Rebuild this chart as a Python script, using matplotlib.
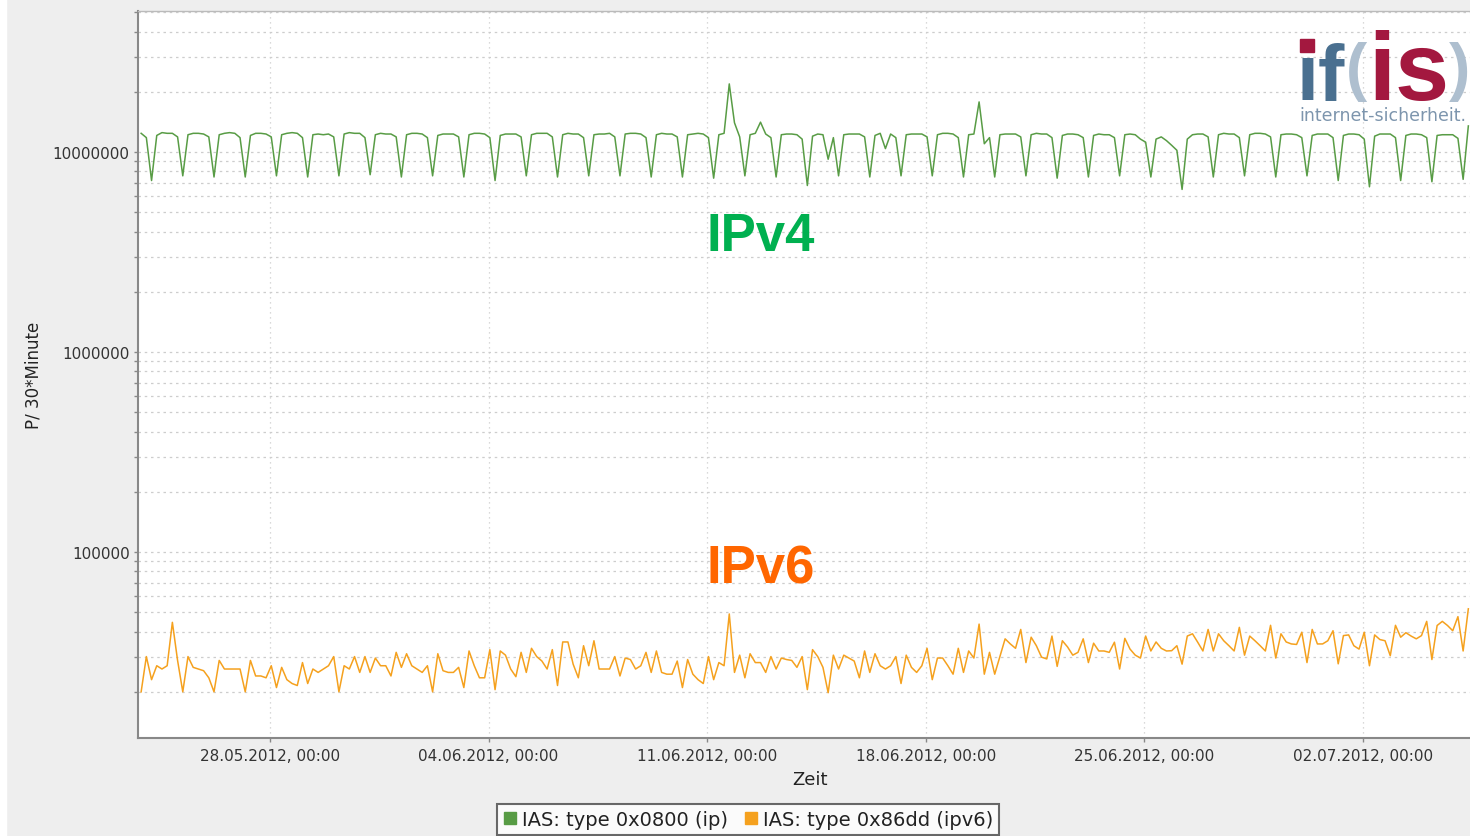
from datetime import datetime, timedelta
import numpy as np
import matplotlib
matplotlib.use('Agg')
import matplotlib.pyplot as plt
import matplotlib.dates as mdates
import matplotlib.ticker as ticker
from matplotlib.lines import Line2D
from matplotlib.patches import Rectangle

W, H = 1470, 837

# samples every 4 hours, first one 23.05.2012 21:00
start = datetime(2012, 5, 23, 21, 0)
step_hours = 4

# IPv4 packets per 30 min, in millions (rows = one day: 01, 05, 09, 13, 17, 21 h)
ipv4_mio = [
    12.4,
    11.8, 7.2, 12.1, 12.5, 12.4, 12.4,
    11.9, 7.6, 12.2, 12.4, 12.4, 12.3,
    11.9, 7.5, 12.2, 12.4, 12.5, 12.4,
    11.8, 7.5, 12.1, 12.4, 12.4, 12.3,
    11.9, 7.6, 12.2, 12.4, 12.5, 12.4,
    11.8, 7.5, 12.2, 12.3, 12.2, 12.3,
    11.9, 7.6, 12.3, 12.5, 12.4, 12.4,
    11.8, 7.7, 12.2, 12.4, 12.3, 12.3,
    11.9, 7.5, 12.2, 12.4, 12.4, 12.3,
    11.8, 7.6, 12.1, 12.3, 12.3, 12.3,
    11.9, 7.5, 12.2, 12.4, 12.4, 12.3,
    11.8, 7.2, 12.1, 12.3, 12.3, 12.3,
    11.9, 7.6, 12.2, 12.4, 12.4, 12.4,
    11.9, 7.5, 12.2, 12.4, 12.3, 12.3,
    11.8, 7.6, 12.2, 12.3, 12.3, 12.4,
    11.9, 7.6, 12.3, 12.4, 12.4, 12.3,
    11.8, 7.5, 12.2, 12.4, 12.3, 12.3,
    11.9, 7.5, 12.2, 12.3, 12.4, 12.3,
    11.8, 7.4, 12.2, 12.4, 21.9, 14.0,
    11.9, 7.6, 12.2, 12.4, 14.1, 12.3,
    11.8, 7.5, 12.2, 12.3, 12.3, 12.2,
    11.6, 6.8, 12.0, 12.3, 12.2, 9.2,
    11.8, 7.6, 12.2, 12.3, 12.3, 12.3,
    11.9, 7.5, 12.1, 12.4, 10.4, 12.3,
    11.8, 7.6, 12.2, 12.3, 12.3, 12.3,
    11.9, 7.6, 12.2, 12.4, 12.4, 12.3,
    11.8, 7.5, 12.2, 12.3, 17.8, 11.0,
    11.8, 7.5, 12.2, 12.3, 12.3, 12.3,
    11.9, 7.6, 12.2, 12.4, 12.3, 12.3,
    11.8, 7.4, 12.1, 12.3, 12.3, 12.2,
    11.8, 7.5, 12.1, 12.3, 12.2, 12.2,
    11.8, 7.6, 12.2, 12.3, 12.2, 11.6,
    11.2, 7.5, 11.6, 11.9, 11.4, 10.8,
    10.2, 6.5, 11.6, 12.2, 12.3, 12.3,
    11.9, 7.5, 12.2, 12.4, 12.3, 12.3,
    11.8, 7.6, 12.2, 12.4, 12.4, 12.3,
    11.9, 7.5, 12.2, 12.3, 12.3, 12.2,
    11.8, 7.6, 12.1, 12.3, 12.3, 12.3,
    11.8, 7.2, 12.1, 12.3, 12.3, 12.2,
    11.6, 6.7, 12.0, 12.3, 12.3, 12.3,
    11.8, 7.2, 12.1, 12.3, 12.3, 12.2,
    11.8, 7.1, 12.1, 12.2, 12.2, 12.2,
    11.7, 7.3, 13.5,
]

# IPv6 packets per 30 min, in thousands (same time grid)
ipv6_tsd = [
    20, 30, 23, 27, 26, 27, 44.5, 28.7, 20, 30,
    26.5, 26, 25.5, 23.5, 20, 28.7, 26, 26, 26, 26,
    20, 28.7, 24, 24, 23.5, 27, 21, 26.5, 23, 22,
    21.5, 28, 22, 26, 25, 26, 27, 30, 20, 27,
    26, 30, 25, 30, 25, 29.5, 27, 27, 24, 31.5,
    26.5, 31, 27, 26, 25, 27,
    20, 31, 25.5, 25, 25, 26.5, 21, 32, 27, 23.5,
    23.5, 32.5, 20.5, 32, 30.5, 26, 23.8, 31.5, 25, 33,
    30, 28.5, 26, 32.5, 21.5, 35.5, 35.5, 27.5, 23.5, 34,
    27, 36, 26, 26, 26, 30, 24, 29.5, 29, 26,
    27, 31.5, 25, 32, 25, 24.5, 24.5, 28.5, 21, 29,
    24.5, 23, 22, 30,
    23, 28, 27, 49, 25, 30.5, 23.5, 31, 28, 28,
    25, 30, 26, 29.5, 29, 28.7, 26.5, 30, 20.5, 32.5,
    30, 26.5, 19.8, 30.5, 26, 30.5, 29.5, 28.5, 23.5, 32,
    25, 31, 27, 26, 27, 30, 22, 30.5, 26.5, 25,
    27, 33, 23, 29.5, 29.5, 27, 24.5, 33, 25, 32,
    29.5, 43.6, 24.5, 31.5,
    24.5, 30, 36.8, 34.7, 33, 41, 28, 37.5, 34, 29.8,
    29.2, 38, 26.8, 36, 33.5, 30.5, 31.5, 36.8, 28, 35,
    32, 32, 31.5, 35.4, 26, 37, 32.7, 30.5, 29.5, 38,
    32, 35.5, 33, 32, 32.1, 34, 27.5, 38, 39, 35.4,
    32, 41, 32, 39, 36, 34, 32, 42, 30.5, 38,
    36, 34, 32,
    43, 29.5, 39, 35.5, 34.7, 34.5, 39.7, 28, 41, 34.7,
    34.7, 36, 40.4, 27.6, 38.2, 38.5, 34, 32.7, 39.7, 27,
    38.5, 36.5, 36, 30.3, 43, 37.5, 39.5, 38, 36.8, 38.2,
    45, 29, 42.9, 45, 42.9, 40.4, 47.5, 32, 52,
]

x_ticks = [datetime(2012, 5, 28), datetime(2012, 6, 4), datetime(2012, 6, 11),
           datetime(2012, 6, 18), datetime(2012, 6, 25), datetime(2012, 7, 2)]
labels = ['IAS: type 0x0800 (ip)', 'IAS: type 0x86dd (ipv6)']
green = '#589c45'
orange = '#f5a11e'

t = [start + timedelta(hours=step_hours * i) for i in range(len(ipv4_mio))]

def fx(x):
    return x / W

def fy(y):
    return 1 - y / H

fig = plt.figure(figsize=(W / 100, H / 100), dpi=100, facecolor='#eeeeee')
fig.patches.append(Rectangle((0, 0), 6 / W, 1, transform=fig.transFigure,
                             color='white', zorder=-5))

ax = fig.add_axes([fx(138), fy(739), 1344 / W, 727 / H])
ax.set_yscale('log')
ax.plot(t, np.array(ipv4_mio) * 1e6, color=green, lw=1.1, zorder=3)
ax.plot(t, np.array(ipv6_tsd) * 1e3, color=orange, lw=1.1, zorder=3)

ax.set_xlim(datetime(2012, 5, 23, 18, 35), datetime(2012, 7, 5, 19, 30))
ax.set_ylim(11750, 5.07e7)

ax.set_xticks(x_ticks)
ax.xaxis.set_major_formatter(mdates.DateFormatter('%d.%m.%Y, %H:%M'))
ax.yaxis.set_major_locator(ticker.LogLocator(base=10))
ax.yaxis.set_minor_locator(ticker.LogLocator(base=10, subs=np.arange(2, 10)))
ax.yaxis.set_major_formatter(ticker.FuncFormatter(lambda v, p: f'{int(round(v))}'))
ax.yaxis.set_minor_formatter(ticker.NullFormatter())

ax.grid(True, which='both', axis='y', color='#cdcdcd', ls=(0, (2, 3)), lw=0.9)
ax.grid(True, which='major', axis='x', color='#cdcdcd', ls=(0, (1, 3)), lw=0.9)
ax.set_axisbelow(True)

ax.tick_params(axis='both', which='both', direction='out', length=3, width=1,
               color='#888888', labelcolor='#333333', labelsize=11)
ax.tick_params(axis='y', pad=3)
ax.tick_params(axis='x', pad=4)

for s in ['left', 'bottom']:
    ax.spines[s].set_color('#888888')
    ax.spines[s].set_linewidth(1.5)
ax.spines['top'].set_color('#bbbbbb')
ax.spines['top'].set_linewidth(1)
ax.spines['right'].set_visible(False)

ax.set_xlabel('Zeit', fontsize=13, color='#222222', labelpad=5)
fig.text(fx(33), fy(375), 'P/ 30*Minute', rotation=90, fontsize=12,
         ha='center', va='center', color='#222222')

# series labels
fig.text(fx(761), fy(251), 'IPv4', fontsize=38, fontweight='bold',
         family='Liberation Sans', color='#00b050', ha='center', va='baseline')
fig.text(fx(761), fy(584), 'IPv6', fontsize=38, fontweight='bold',
         family='Liberation Sans', color='#ff6600', ha='center', va='baseline')

# if(is) logo
blue, crimson, pale = '#4a7090', '#a3183f', '#aebfcf'
fig.text(fx(1296), fy(100), 'if', fontsize=57, fontweight='bold',
         family='Liberation Sans', color=blue, va='baseline', zorder=6)
fig.patches.append(Rectangle((fx(1300), fy(53)), 14 / W, 13 / H,
                             transform=fig.transFigure, color=crimson, zorder=7))
fig.text(fx(1346), fy(89), '(', fontsize=46, fontweight='bold',
         family='Liberation Sans', color=pale, va='baseline', zorder=6)
fig.text(fx(1368), fy(100), 'is', fontsize=70, fontweight='bold',
         family='Liberation Sans', color=crimson, va='baseline', zorder=6)
fig.text(fx(1449), fy(89), ')', fontsize=46, fontweight='bold',
         family='Liberation Sans', color=pale, va='baseline', zorder=6)
fig.text(fx(1299), fy(121), 'internet-sicherheit.', fontsize=12.5,
         color='#7d95ad', va='baseline', zorder=6)

handles = [Line2D([], [], marker='s', ls='none', color=green, markersize=9),
           Line2D([], [], marker='s', ls='none', color=orange, markersize=9)]
leg = fig.legend(handles, labels, loc='upper center', bbox_to_anchor=(fx(748), fy(805)),
                 borderaxespad=0, ncol=2, frameon=True, fancybox=False,
                 edgecolor='#444444', fontsize=14, handletextpad=0.2,
                 columnspacing=0.8, borderpad=0.3, handlelength=0.8)
leg.get_frame().set_linewidth(1.5)
for txt in leg.get_texts():
    txt.set_color('#222222')

fig.savefig('out.png', dpi=100, facecolor=fig.get_facecolor())
